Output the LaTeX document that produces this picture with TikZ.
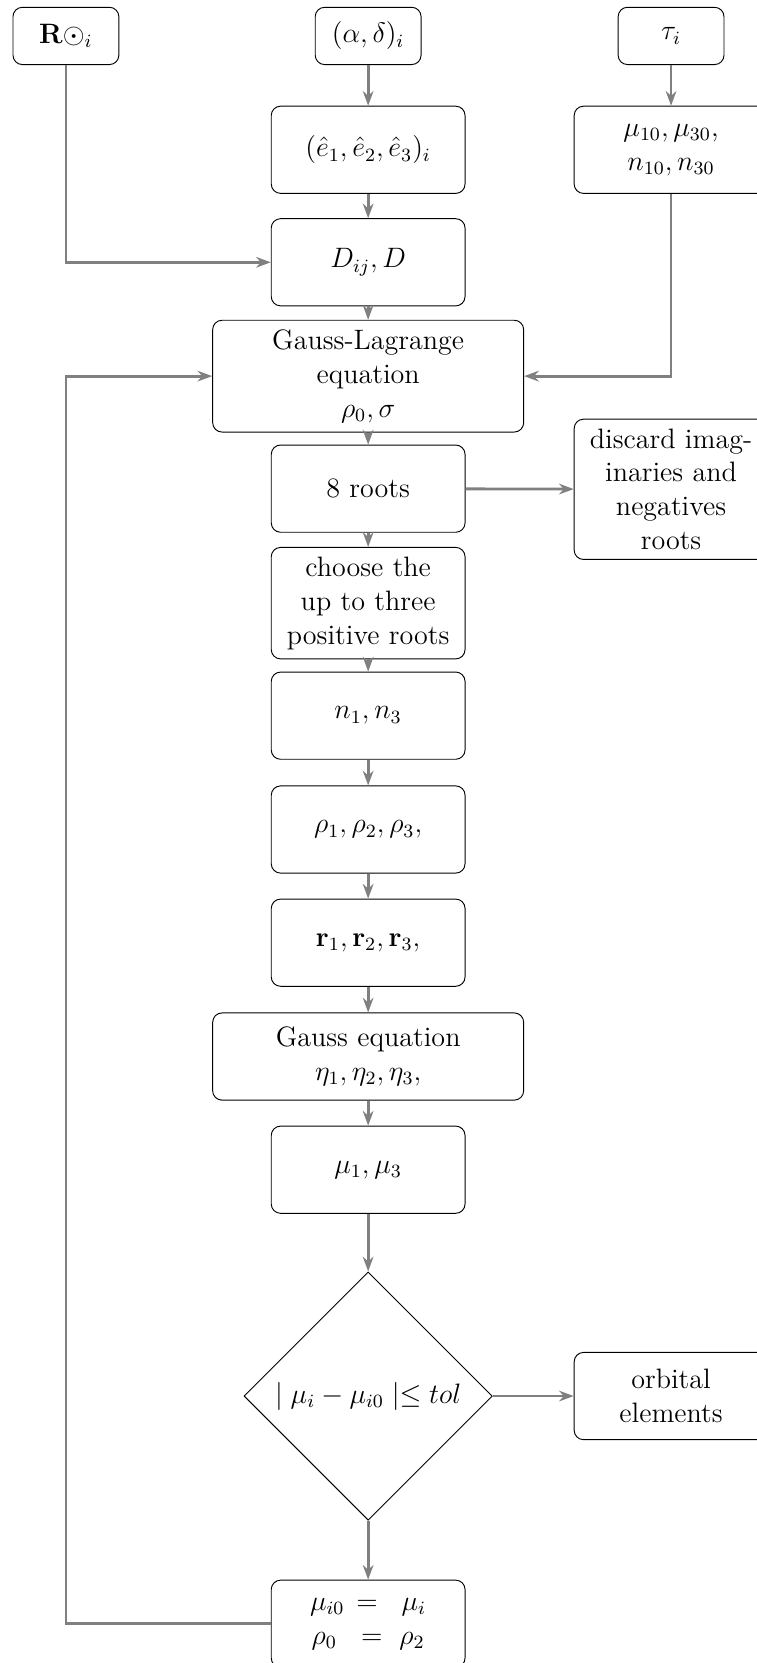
\documentclass[12pt,tikz,border=0pt]{standalone}
\usepackage{amsmath}
\usepackage{amssymb}
\usepackage{tikz}
\usetikzlibrary{arrows.meta, shapes, calc}

\begin{document}
\begin{tikzpicture}[
  box/.style={rectangle, draw, rounded corners, text centered, inner sep=4pt},
  smallbox/.style={box, minimum width=1.59cm, minimum height=0.86cm},
  midbox/.style={box, text width=2.63cm, minimum height=1.31cm},
  widebox/.style={box, text width=4.39cm, minimum height=1.31cm},
  test/.style={diamond, draw, minimum width=3.73cm, minimum height=3.73cm, inner sep=1pt},
  flow/.style={-{Stealth[length=2.2mm, width=1.6mm]}, very thick, gray}
]
\useasboundingbox (0,0) rectangle (11.36,-24.98);

% inputs
\node[smallbox] (sun) at (0.99, -0.54) {$\mathbf{R}\odot_i$};
\node[smallbox] (radec) at (5.53, -0.54) {$(\alpha,\delta)_i$};
\node[smallbox] (tau) at (10.08, -0.54) {$\tau_i$};

% main column
\node[midbox] (ehat) at (5.53, -2.25) {$(\hat{e}_1,\hat{e}_2,\hat{e}_3)_i$};
\node[midbox] (mu0) at (10.08, -2.25) {$\mu_{10},\mu_{30}$,\\ $n_{10},n_{30}$};
\node[midbox] (dij) at (5.53, -3.94) {$D_{ij},D$};
\node[widebox] (gl) at (5.53, -5.65) {Gauss-Lagrange\\ equation\\ $\rho_0,\sigma$};
\node[midbox] (roots) at (5.53, -7.34) {8 roots};
\node[midbox] (discard) at (10.08, -7.35) {discard imag-\\inaries and\\ negatives\\ roots};
\node[midbox] (choose) at (5.53, -9.06) {choose the\\ up to three\\ positive roots};
\node[midbox] (nn) at (5.53, -10.75) {$n_1,n_3$};
\node[midbox] (rho) at (5.53, -12.46) {$\rho_1,\rho_2,\rho_3,$};
\node[midbox] (rr) at (5.53, -14.16) {$\mathbf{r}_1,\mathbf{r}_2,\mathbf{r}_3,$};
\node[widebox] (gauss) at (5.53, -15.87) {Gauss equation\\ $\eta_1,\eta_2,\eta_3,$};
\node[midbox] (mu) at (5.53, -17.57) {$\mu_1,\mu_3$};

% test and loop
\node[test] (tol) at (5.53, -20.97) {$\mid \mu_i-\mu_{i0}\mid\leq tol$};
\node[midbox] (orb) at (10.08, -20.97) {orbital\\ elements};
\node[midbox] (upd) at (5.53, -24.39) {$\mu_{i0}=\;\mu_i$\\ $\rho_0\;=\,\rho_2$};
\coordinate (back) at (0.99, -24.39);

\draw[flow] (radec) -- (ehat);
\draw[flow] (ehat) -- (dij);
\draw[flow] (dij) -- (gl);
\draw[flow] (gl) -- (roots);
\draw[flow] (roots) -- (choose);
\draw[flow] (choose) -- (nn);
\draw[flow] (nn) -- (rho);
\draw[flow] (rho) -- (rr);
\draw[flow] (rr) -- (gauss);
\draw[flow] (gauss) -- (mu);
\draw[flow] (mu) -- (tol);
\draw[flow] (tol) -- (upd);
\draw[flow] (tau) -- (mu0);
\draw[flow] (sun) |- (dij);
\draw[flow] (mu0) |- (gl);
\draw[flow] (roots) -- (discard);
\draw[flow] (tol) -- (orb);
\draw[flow] (upd) -- (back) |- (gl);
\end{tikzpicture}
\end{document}
